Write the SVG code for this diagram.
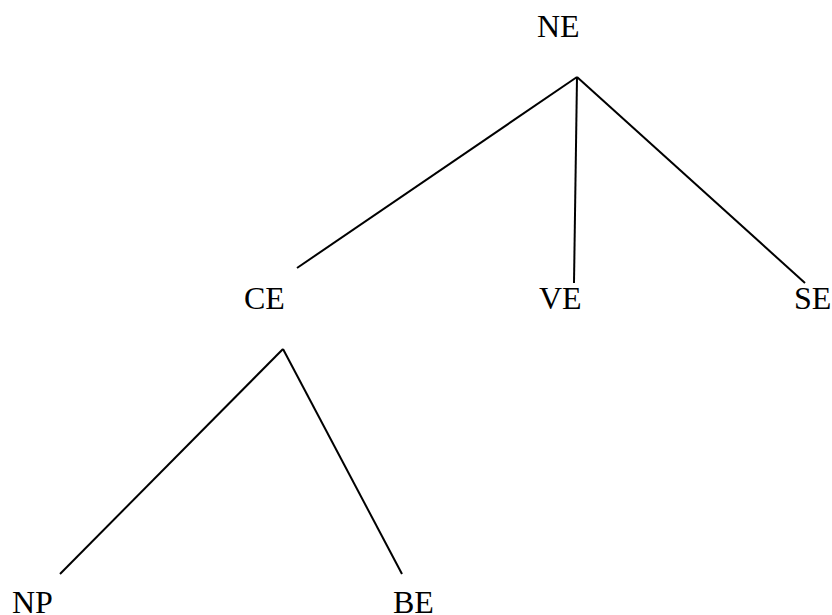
<svg xmlns="http://www.w3.org/2000/svg" width="832" height="615" viewBox="0 0 832 615">
  <style>
    .lbl { font-family: "Liberation Serif", "Times New Roman", serif; font-size: 32px; fill: #000; }
    .edge { stroke: #000; stroke-width: 2; fill: none; stroke-linecap: butt; }
  </style>
  <rect width="832" height="615" fill="#fff"/>
  <g id="connectors">
    <line class="edge" x1="577" y1="77" x2="297" y2="268"/>
    <line class="edge" x1="577" y1="77" x2="574" y2="283"/>
    <line class="edge" x1="577" y1="77" x2="805" y2="283"/>
    <line class="edge" x1="283" y1="349" x2="60" y2="574"/>
    <line class="edge" x1="283" y1="349" x2="402" y2="574"/>
  </g>
  <g id="NE"><text class="lbl" x="537" y="37">NE</text></g>
  <g id="CE"><text class="lbl" x="244" y="309">CE</text></g>
  <g id="VE"><text class="lbl" x="539" y="309">VE</text></g>
  <g id="SE"><text class="lbl" x="794" y="309">SE</text></g>
  <g id="NP"><text class="lbl" x="12" y="613">NP</text></g>
  <g id="BE"><text class="lbl" x="393" y="613">BE</text></g>
</svg>
